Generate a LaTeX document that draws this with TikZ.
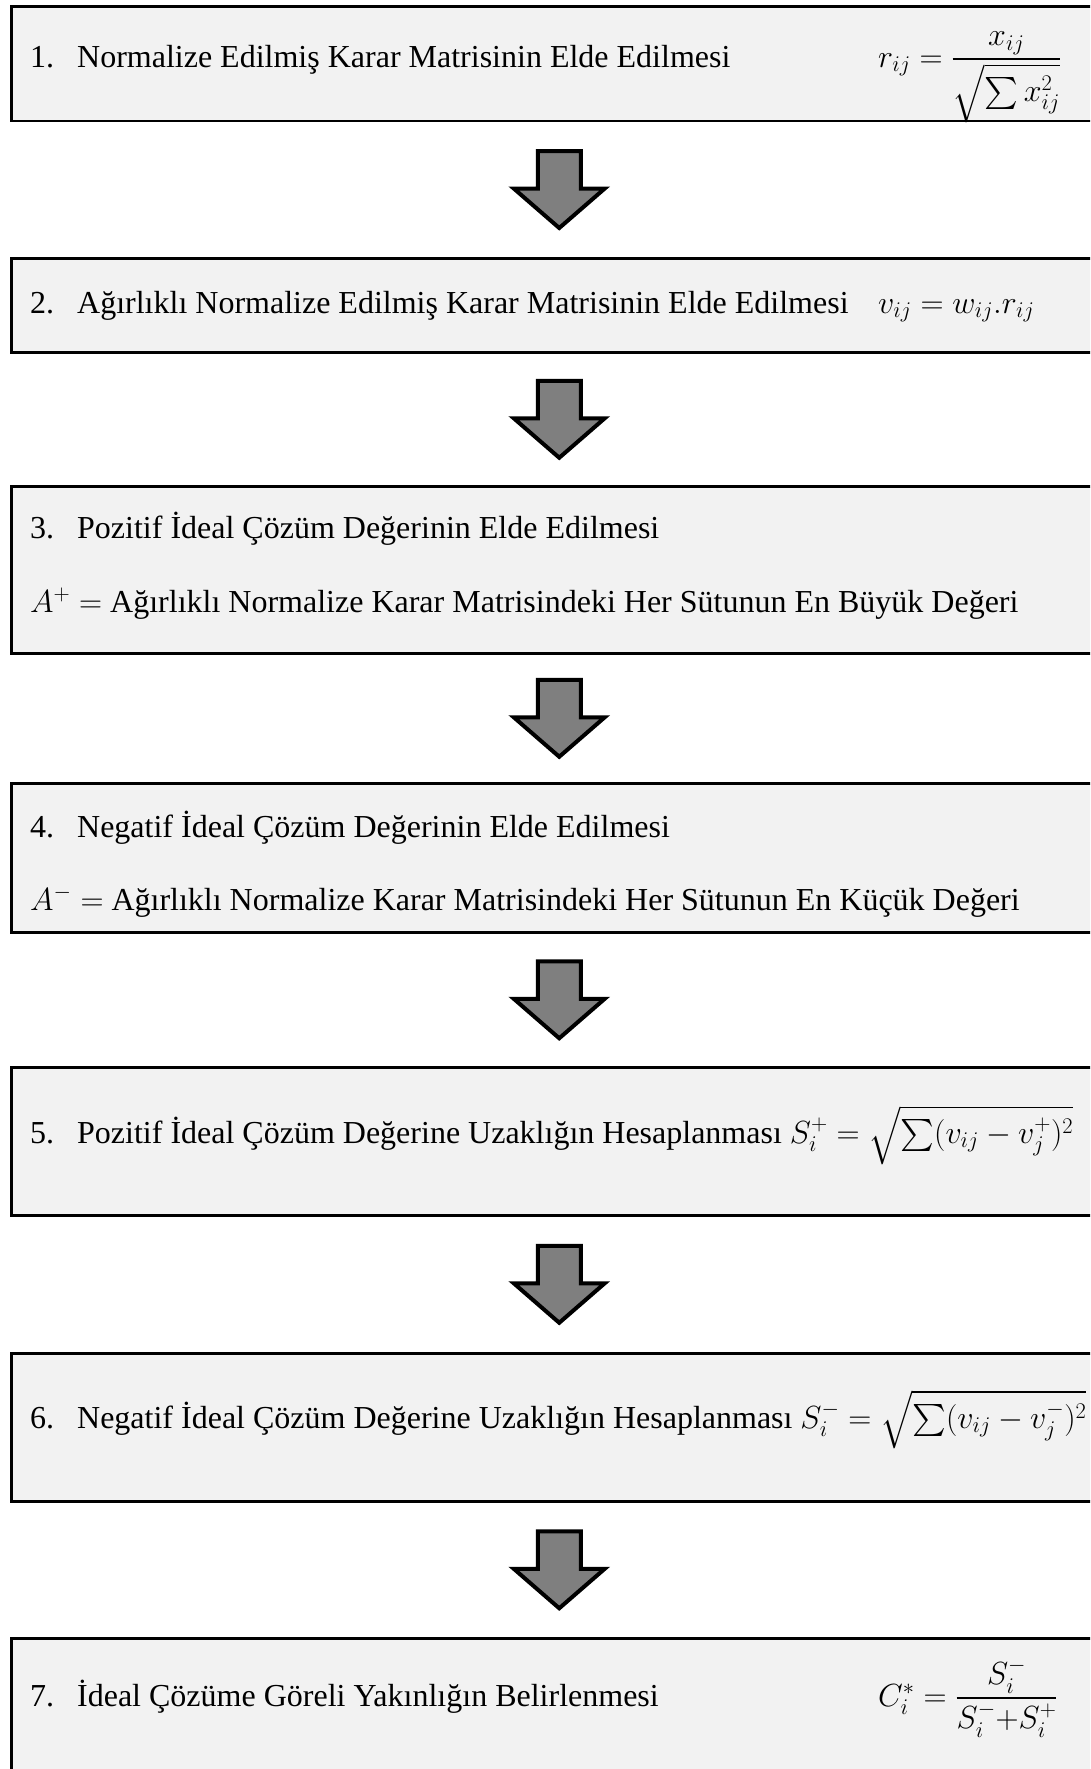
\RequirePackage{fix-cm}
\documentclass[tikz,border=0pt]{standalone}
\usepackage{amsmath}
\usepackage{amssymb}
\usepackage{fontspec}
\setmainfont{Liberation Serif}
\usetikzlibrary{
    calc
}
\definecolor{boxgray}{HTML}{F2F2F2}
\definecolor{arrowgray}{HTML}{7F7F7F}
\tikzset {
    stage box/.style = {draw, line width = 2.5pt, fill = boxgray,
        anchor = north west, minimum width = 1096pt, inner sep = 0pt},
    stage text/.style = {anchor = base west, inner sep = 0pt,
        font = \fontsize{32}{38}\selectfont},
    %
    block arrow/.pic = {
        \draw [line width = 4pt, fill = arrowgray, miter limit = 10]
        (-21.5, -38.5) -- (21.5, -38.5) -- (21.5, -1) -- (45.5, -1)
        -- (0, 38.5) -- (-45.5, -1) -- (-21.5, -1) -- cycle;
    }
}
\newcommand{\stepno}[1]{\makebox[47pt][l]{#1}}

\begin{document}
\begin{tikzpicture}[x = 1pt, y = -1pt]
            \useasboundingbox (0, 0) rectangle (1090, 1769);
            \clip (0, 0) rectangle (1090, 1769);
            % boxes
            \node (b1) [stage box, minimum height = 114pt] at (10, 5.5) {};
            \node (b2) [stage box, minimum height = 94pt] at (10, 257) {};
            \node (b3) [stage box, minimum height = 167pt] at (10, 485) {};
            \node (b4) [stage box, minimum height = 149pt] at (10, 782) {};
            \node (b5) [stage box, minimum height = 148pt] at (10, 1066) {};
            \node (b6) [stage box, minimum height = 148pt] at (10, 1352) {};
            \node (b7) [stage box, minimum height = 200pt] at (10, 1637) {};
            % texts
            \node (t1) [stage text] at (30, 67)
                {\stepno{1.}Normalize Edilmiş Karar Matrisinin Elde Edilmesi};
            \node (f1) [stage text] at (878, 67)
                {$r_{ij} = \dfrac{x_{ij}}{\sqrt{\sum x_{ij}^2}}$};
            \node (t2) [stage text] at (30, 313)
                {\stepno{2.}Ağırlıklı Normalize Edilmiş Karar Matrisinin Elde Edilmesi};
            \node (f2) [stage text] at (878, 313) {$v_{ij} = w_{ij}.r_{ij}$};
            \node (t3) [stage text] at (30, 538)
                {\stepno{3.}Pozitif İdeal Çözüm Değerinin Elde Edilmesi};
            \node (f3) [stage text] at (30, 612)
                {$A^{+} =$ Ağırlıklı Normalize Karar Matrisindeki Her Sütunun En Büyük Değeri};
            \node (t4) [stage text] at (30, 837)
                {\stepno{4.}Negatif İdeal Çözüm Değerinin Elde Edilmesi};
            \node (f4) [stage text] at (30, 910)
                {$A^{-} =$ Ağırlıklı Normalize Karar Matrisindeki Her Sütunun En Küçük Değeri};
            \node (t5) [stage text] at (30, 1143)
                {\stepno{5.}Pozitif İdeal Çözüm Değerine Uzaklığın Hesaplanması
                $S_i^{+} = \sqrt{\sum (v_{ij} - v_j^{+})^2}$};
            \node (t6) [stage text] at (30, 1428)
                {\stepno{6.}Negatif İdeal Çözüm Değerine Uzaklığın Hesaplanması
                $S_i^{-} = \sqrt{\sum (v_{ij} - v_j^{-})^2}$};
            \node (t7) [stage text] at (30, 1706)
                {\stepno{7.}İdeal Çözüme Göreli Yakınlığın Belirlenmesi};
            \node (f7) [stage text] at (878, 1706)
                {$C_i^{*} = \dfrac{S_i^{-}}{S_i^{-}{+}S_i^{+}}$};
            % arrows
            \foreach \from/\to in {b1/b2, b2/b3, b3/b4, b4/b5, b5/b6, b6/b7}
                \pic at ($(\from.south)!.5!(\to.north)$) {block arrow};
        \end{tikzpicture}
\end{document}
